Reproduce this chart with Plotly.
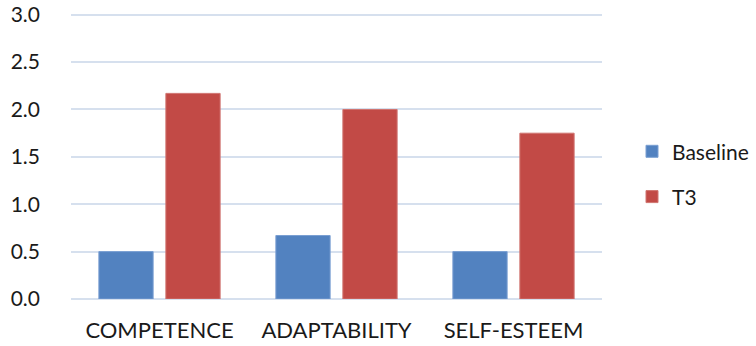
import plotly.graph_objects as go

categories = ["COMPETENCE", "ADAPTABILITY", "SELF-ESTEEM"]
baseline = [0.5, 0.67, 0.5]
t3 = [2.17, 2.0, 1.75]
tick_vals = [0, 0.5, 1.0, 1.5, 2.0, 2.5, 3.0]
tick_text = ["0.0", "0.5", "1.0", "1.5", "2.0", "2.5", "3.0"]

FONT = "Lato"
FS = 21

fig = go.Figure()
fig.add_trace(go.Bar(name="Baseline", x=categories, y=baseline, legendgroup="a",
                     marker=dict(color="#5282c0", line=dict(color="#7a9fd2", width=1))))
fig.add_trace(go.Bar(name="T3", x=categories, y=t3, legendgroup="b",
                     marker=dict(color="#c24a46", line=dict(color="#d07470", width=1))))

fig.update_layout(
    width=756, height=346,
    margin=dict(l=71, r=154, t=10, b=47, autoexpand=False),
    paper_bgcolor="white", plot_bgcolor="white",
    barmode="group", bargap=0.243, bargroupgap=0.19,
    font=dict(family=FONT, size=FS, color="#1a1a1a"),
    legend=dict(x=1.0565, xanchor="left", y=0.432, yanchor="middle",
                font=dict(family=FONT, size=FS, color="#1a1a1a"),
                traceorder="grouped", tracegroupgap=15, itemwidth=30),
    xaxis=dict(showgrid=False, showline=False, ticks="", ticklabelstandoff=16,
               automargin=False, tickfont=dict(family=FONT, size=22)),
    yaxis=dict(range=[0, 3.05], tickvals=tick_vals, ticktext=tick_text,
               showgrid=True, gridcolor="#d6e0ee", gridwidth=1.5,
               zeroline=True, zerolinecolor="#d6e0ee", zerolinewidth=1.5,
               showline=False, ticks="", ticklabelstandoff=30,
               automargin=False, tickfont=dict(family=FONT, size=FS)),
)

fig.write_html("out.html")
